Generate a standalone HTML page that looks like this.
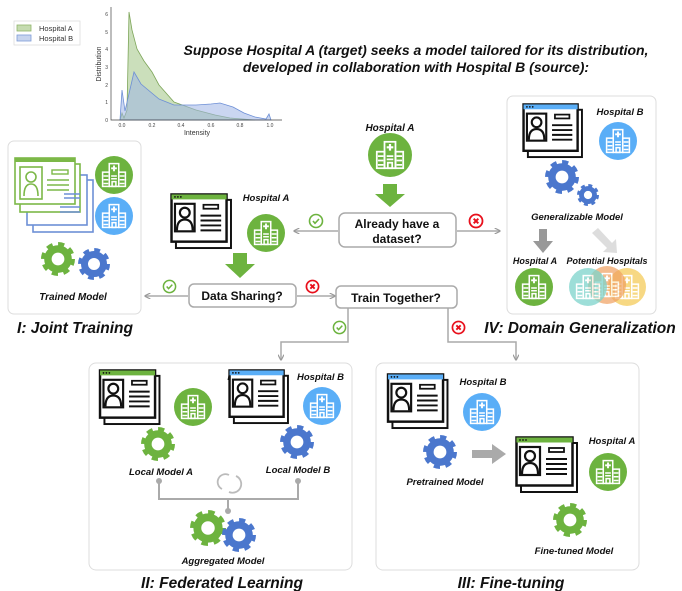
<!DOCTYPE html>
<html><head><meta charset="utf-8"><style>
html,body{margin:0;padding:0;background:#fff}
svg{display:block}
text{font-family:"Liberation Sans",sans-serif}
.bi{font-weight:bold;font-style:italic}
</style></head><body>
<svg width="682" height="591" viewBox="0 0 682 591" xmlns="http://www.w3.org/2000/svg">
<defs>
<symbol id="doc" viewBox="0 0 64 58">
<rect x="6" y="7" width="56" height="49" fill="#fff" stroke="#111" stroke-width="2"/>
<rect x="1.5" y="1.5" width="56" height="48" fill="#fff" stroke="#111" stroke-width="2.5"/>
<rect x="1.5" y="1.5" width="56" height="5" fill="currentColor"/>
<circle cx="5" cy="4" r="0.9" fill="#111"/><circle cx="8" cy="4" r="0.9" fill="#111"/><circle cx="11" cy="4" r="0.9" fill="#111"/>
<rect x="5" y="11" width="20" height="28" fill="none" stroke="#111" stroke-width="2.2"/>
<circle cx="15" cy="20" r="5" fill="none" stroke="#111" stroke-width="2.2"/>
<path d="M7 38 Q7 27 15 27 Q23 27 23 38" fill="none" stroke="#111" stroke-width="2.2"/>
<rect x="34" y="12" width="15" height="4" fill="none" stroke="#111" stroke-width="1.8"/>
<path d="M31 23H52M31 28H52M31 33H52M31 38H52" stroke="#111" stroke-width="2"/>
</symbol>
<symbol id="hosp" viewBox="-20 -20 40 40">
<circle r="20" fill="currentColor"/>
<g fill="none" stroke="#fff" stroke-width="1.6">
<rect x="-5" y="-12" width="10" height="24"/>
<rect x="-12" y="-3" width="7" height="15"/>
<rect x="5" y="-3" width="7" height="15"/>
<path d="M-11 1H-6M-11 5H-6M-11 9H-6M6 1H11M6 5H11M6 9H11M-3 1H3M-3 4H3"/>
<rect x="-2" y="7" width="4" height="5"/>
</g>
<path d="M0 -10V-4M-3 -7H3" stroke="#fff" stroke-width="2"/>
</symbol>
<symbol id="gear" viewBox="-16 -16 32 32">
<circle r="9.5" fill="none" stroke="currentColor" stroke-width="7"/>
<circle r="13.5" fill="none" stroke="currentColor" stroke-width="5" stroke-dasharray="5.6 5"/>
</symbol>
<symbol id="ok" viewBox="-8 -8 16 16">
<circle r="6.5" fill="#fff" stroke="#6db33f" stroke-width="1.6"/>
<path d="M-3 0L-1 2.3L3 -2" fill="none" stroke="#6db33f" stroke-width="1.6"/>
</symbol>
<symbol id="no" viewBox="-8 -8 16 16">
<circle r="6.5" fill="#fff" stroke="#e8101c" stroke-width="1.8"/>
<path d="M-2.3 -2.3L2.3 2.3M2.3 -2.3L-2.3 2.3" stroke="#e8101c" stroke-width="2"/>
</symbol>
<marker id="ah" viewBox="0 0 10 10" refX="9" refY="5" markerWidth="4" markerHeight="4" orient="auto"><path d="M0 0L10 5L0 10" fill="none" stroke="#999" stroke-width="2"/></marker>
</defs>

<!-- chart -->
<rect x="14" y="21" width="66" height="24" fill="#fff" stroke="#ddd" stroke-width="0.8"/>
<rect x="17" y="25" width="14" height="6" fill="#c5dbb0" stroke="#8fb56a" stroke-width="0.8"/>
<rect x="17" y="35" width="14" height="6" fill="#c7d4ee" stroke="#7d9bd8" stroke-width="0.8"/>
<text x="39" y="31" font-size="7.5" fill="#333">Hospital A</text>
<text x="39" y="41" font-size="7.5" fill="#333">Hospital B</text>
<path d="M120 120 L122 113 L124 118 L127 110 L129 12 L132 30 L137 49 L144 61 L152 72 L159 85 L174 102 L196 110 L215 115 L230 118 L255 120 Z" fill="#a9c98e" fill-opacity="0.6" stroke="#7ea65a" stroke-width="0.8"/>
<path d="M120 120 L122 90 L125 111 L128 98 L134 72 L141 84 L159 99 L174 105 L196 105 L211 104 L220 103 L233 107 L244 113 L255 117 L266 119 L269 114 L271 120 Z" fill="#9fb5e6" fill-opacity="0.55" stroke="#6d8fd6" stroke-width="0.8"/>
<path d="M111 7V120H282" fill="none" stroke="#444" stroke-width="0.7"/>
<g font-size="5" fill="#444" text-anchor="middle">
<text x="122" y="127">0.0</text><text x="152" y="127">0.2</text><text x="181" y="127">0.4</text><text x="211" y="127">0.6</text><text x="240" y="127">0.8</text><text x="270" y="127">1.0</text>
</g>
<g font-size="5" fill="#444" text-anchor="end">
<text x="108" y="122">0</text><text x="108" y="104">1</text><text x="108" y="87">2</text><text x="108" y="69">3</text><text x="108" y="51">4</text><text x="108" y="34">5</text><text x="108" y="16">6</text>
</g>
<text x="197" y="135" font-size="7" fill="#333" text-anchor="middle">Intensity</text>
<text transform="translate(101 64) rotate(-90)" font-size="7" fill="#333" text-anchor="middle">Distribution</text>

<text x="416" y="55" font-size="14" class="bi" text-anchor="middle" fill="#111">Suppose Hospital A (target) seeks a model tailored for its distribution,</text>
<text x="416" y="72" font-size="14" class="bi" text-anchor="middle" fill="#111">developed in collaboration with Hospital B (source):</text>

<!-- Box I -->
<rect x="8" y="141" width="133" height="173" rx="6" fill="#fff" stroke="#ddd" stroke-width="1"/>
<g fill="#fff" stroke-width="1.6">
<rect x="33" y="180" width="60" height="52" stroke="#6d8fd6"/>
<rect x="27" y="175" width="60" height="50" stroke="#6d8fd6"/>
<rect x="20" y="164" width="60" height="48" stroke="#7cb848"/>
<rect x="15" y="158" width="60" height="46" stroke="#7cb848"/>
</g>
<rect x="15" y="158" width="60" height="4" fill="#7cb848"/>
<rect x="20" y="167" width="22" height="32" fill="none" stroke="#7cb848" stroke-width="1.6"/>
<circle cx="31" cy="177" r="5" fill="none" stroke="#7cb848" stroke-width="1.6"/>
<path d="M24 196Q24 184 31 184Q38 184 38 196" fill="none" stroke="#7cb848" stroke-width="1.6"/>
<rect x="52" y="170" width="16" height="4" fill="none" stroke="#7cb848" stroke-width="1.4"/>
<path d="M47 180H69M47 185H69M47 190H69" stroke="#7cb848" stroke-width="1.6"/>
<path d="M60 207H80M60 212H80M64 194H80M64 198H80" stroke="#6d8fd6" stroke-width="1.6"/>
<use href="#hosp" x="95" y="156" width="38" height="38" color="#6db33f"/>
<use href="#hosp" x="95" y="197" width="38" height="38" color="#5aaef7"/>
<use href="#gear" x="41" y="242" width="34" height="34" color="#6db33f"/>
<use href="#gear" x="78" y="248" width="32" height="32" color="#4b77cd"/>
<text x="73" y="300" font-size="10" class="bi" text-anchor="middle" fill="#111">Trained Model</text>
<text x="75" y="333" font-size="15.5" class="bi" text-anchor="middle" fill="#111">I: Joint Training</text>

<!-- center top -->
<text x="390" y="131" font-size="10" class="bi" text-anchor="middle" fill="#111">Hospital A</text>
<use href="#hosp" x="368" y="133" width="44" height="44" color="#6db33f"/>
<path d="M383 184H397V194H405L390 207L375 194H383Z" fill="#6db33f"/>
<rect x="339" y="213" width="117" height="34" rx="6" fill="#fff" stroke="#aaa" stroke-width="1.5"/>
<text x="397" y="228" font-size="12" font-weight="bold" text-anchor="middle" fill="#111">Already have a</text>
<text x="397" y="243" font-size="12" font-weight="bold" text-anchor="middle" fill="#111">dataset?</text>
<line x1="338" y1="231" x2="294" y2="231" stroke="#aaa" stroke-width="1.5" marker-end="url(#ah)"/>
<use href="#ok" x="308" y="213" width="16" height="16"/>
<line x1="457" y1="231" x2="500" y2="231" stroke="#aaa" stroke-width="1.5" marker-end="url(#ah)"/>
<use href="#no" x="468" y="213" width="16" height="16"/>

<use href="#doc" x="168" y="193" width="67" height="57" color="#6db33f"/>
<text x="266" y="201" font-size="9.5" class="bi" text-anchor="middle" fill="#111">Hospital A</text>
<use href="#hosp" x="247" y="214" width="38" height="38" color="#6db33f"/>
<path d="M233 253H247V264H255L240 278L225 264H233Z" fill="#6db33f"/>

<rect x="189" y="284" width="107" height="23" rx="5" fill="#fff" stroke="#aaa" stroke-width="1.5"/>
<text x="242" y="300" font-size="12" font-weight="bold" text-anchor="middle" fill="#111">Data Sharing?</text>
<line x1="188" y1="296" x2="145" y2="296" stroke="#aaa" stroke-width="1.5" marker-end="url(#ah)"/>
<use href="#ok" x="162" y="279" width="15" height="15"/>
<line x1="297" y1="296" x2="335" y2="296" stroke="#aaa" stroke-width="1.5" marker-end="url(#ah)"/>
<use href="#no" x="305" y="279" width="15" height="15"/>

<rect x="336" y="286" width="121" height="22" rx="5" fill="#fff" stroke="#aaa" stroke-width="1.5"/>
<text x="396" y="302" font-size="12" font-weight="bold" text-anchor="middle" fill="#111">Train Together?</text>
<path d="M348 308V342H281V360" fill="none" stroke="#aaa" stroke-width="1.5" marker-end="url(#ah)"/>
<use href="#ok" x="332" y="320" width="15" height="15"/>
<path d="M448 308V342H516V360" fill="none" stroke="#aaa" stroke-width="1.5" marker-end="url(#ah)"/>
<use href="#no" x="451" y="320" width="15" height="15"/>

<!-- Box IV -->
<rect x="507" y="96" width="149" height="218" rx="6" fill="#fff" stroke="#ddd" stroke-width="1"/>
<use href="#doc" x="521" y="103" width="64" height="56" color="#5aaef7"/>
<text x="620" y="115" font-size="9.5" class="bi" text-anchor="middle" fill="#111">Hospital B</text>
<use href="#hosp" x="599" y="122" width="38" height="38" color="#5aaef7"/>
<use href="#gear" x="545" y="160" width="34" height="34" color="#4b77cd"/>
<use href="#gear" x="577" y="184" width="22" height="22" color="#4b77cd"/>
<text x="577" y="220" font-size="9.5" class="bi" text-anchor="middle" fill="#111">Generalizable Model</text>
<path d="M539 229H547V241H553L543 253L533 241H539Z" fill="#999"/>
<path d="M592 233L598 228L612 243L616 239L617 253L603 252L607 248Z" fill="#ddd"/>
<text x="535" y="264" font-size="9" class="bi" text-anchor="middle" fill="#111">Hospital A</text>
<text x="607" y="264" font-size="9" class="bi" text-anchor="middle" fill="#111">Potential Hospitals</text>
<use href="#hosp" x="515" y="268" width="38" height="38" color="#6db33f"/>
<use href="#hosp" x="608" y="268" width="38" height="38" color="#f5cc5a" opacity="0.75"/>
<use href="#hosp" x="588" y="266" width="38" height="38" color="#f0a060" opacity="0.7"/>
<use href="#hosp" x="569" y="268" width="38" height="38" color="#7dd4cc" opacity="0.75"/>
<text x="580" y="333" font-size="15.5" class="bi" text-anchor="middle" fill="#111">IV: Domain Generalization</text>

<!-- Box II -->
<rect x="89" y="363" width="263" height="207" rx="7" fill="#fff" stroke="#ddd" stroke-width="1"/>
<use href="#doc" x="97" y="369" width="66" height="57" color="#6db33f"/>
<text x="274" y="380" font-size="9.5" class="bi" text-anchor="end" fill="#111">Hospital A</text>
<use href="#hosp" x="174" y="388" width="38" height="38" color="#6db33f"/>
<use href="#doc" x="227" y="369" width="64" height="56" color="#5aaef7"/>
<text x="344" y="380" font-size="9.5" class="bi" text-anchor="end" fill="#111">Hospital B</text>
<use href="#hosp" x="303" y="387" width="38" height="38" color="#5aaef7"/>
<use href="#gear" x="141" y="427" width="34" height="34" color="#6db33f"/>
<use href="#gear" x="280" y="425" width="34" height="34" color="#4b77cd"/>
<text x="161" y="475" font-size="9.5" class="bi" text-anchor="middle" fill="#111">Local Model A</text>
<text x="298" y="473" font-size="9.5" class="bi" text-anchor="middle" fill="#111">Local Model B</text>
<path d="M159 480V499H298V480M228 499V511" fill="none" stroke="#aaa" stroke-width="2"/>
<circle cx="159" cy="481" r="3" fill="#aaa"/><circle cx="298" cy="481" r="3" fill="#aaa"/><circle cx="228" cy="511" r="3" fill="#aaa"/>
<path d="M222 489A7 7 0 0 1 229 475M236 476A7 7 0 0 1 229 492" fill="none" stroke="#bbb" stroke-width="1.8"/>
<use href="#gear" x="190" y="510" width="36" height="36" color="#6db33f"/>
<use href="#gear" x="222" y="518" width="34" height="34" color="#4b77cd"/>
<text x="223" y="564" font-size="9.5" class="bi" text-anchor="middle" fill="#111">Aggregated Model</text>
<text x="222" y="588" font-size="15.5" class="bi" text-anchor="middle" fill="#111">II: Federated Learning</text>

<!-- Box III -->
<rect x="376" y="363" width="263" height="207" rx="7" fill="#fff" stroke="#ddd" stroke-width="1"/>
<use href="#doc" x="385" y="373" width="66" height="57" color="#5aaef7"/>
<text x="483" y="385" font-size="9.5" class="bi" text-anchor="middle" fill="#111">Hospital B</text>
<use href="#hosp" x="463" y="393" width="38" height="38" color="#5aaef7"/>
<use href="#gear" x="423" y="435" width="34" height="34" color="#4b77cd"/>
<path d="M472 450H492V444L506 454L492 464V458H472Z" fill="#aaa"/>
<text x="445" y="485" font-size="9.5" class="bi" text-anchor="middle" fill="#111">Pretrained  Model</text>
<use href="#doc" x="514" y="436" width="66" height="58" color="#6db33f"/>
<text x="612" y="444" font-size="9.5" class="bi" text-anchor="middle" fill="#111">Hospital A</text>
<use href="#hosp" x="589" y="453" width="38" height="38" color="#6db33f"/>
<use href="#gear" x="553" y="503" width="34" height="34" color="#6db33f"/>
<text x="574" y="554" font-size="9.5" class="bi" text-anchor="middle" fill="#111">Fine-tuned  Model</text>
<text x="511" y="588" font-size="15.5" class="bi" text-anchor="middle" fill="#111">III: Fine-tuning</text>
</svg>
</body></html>
